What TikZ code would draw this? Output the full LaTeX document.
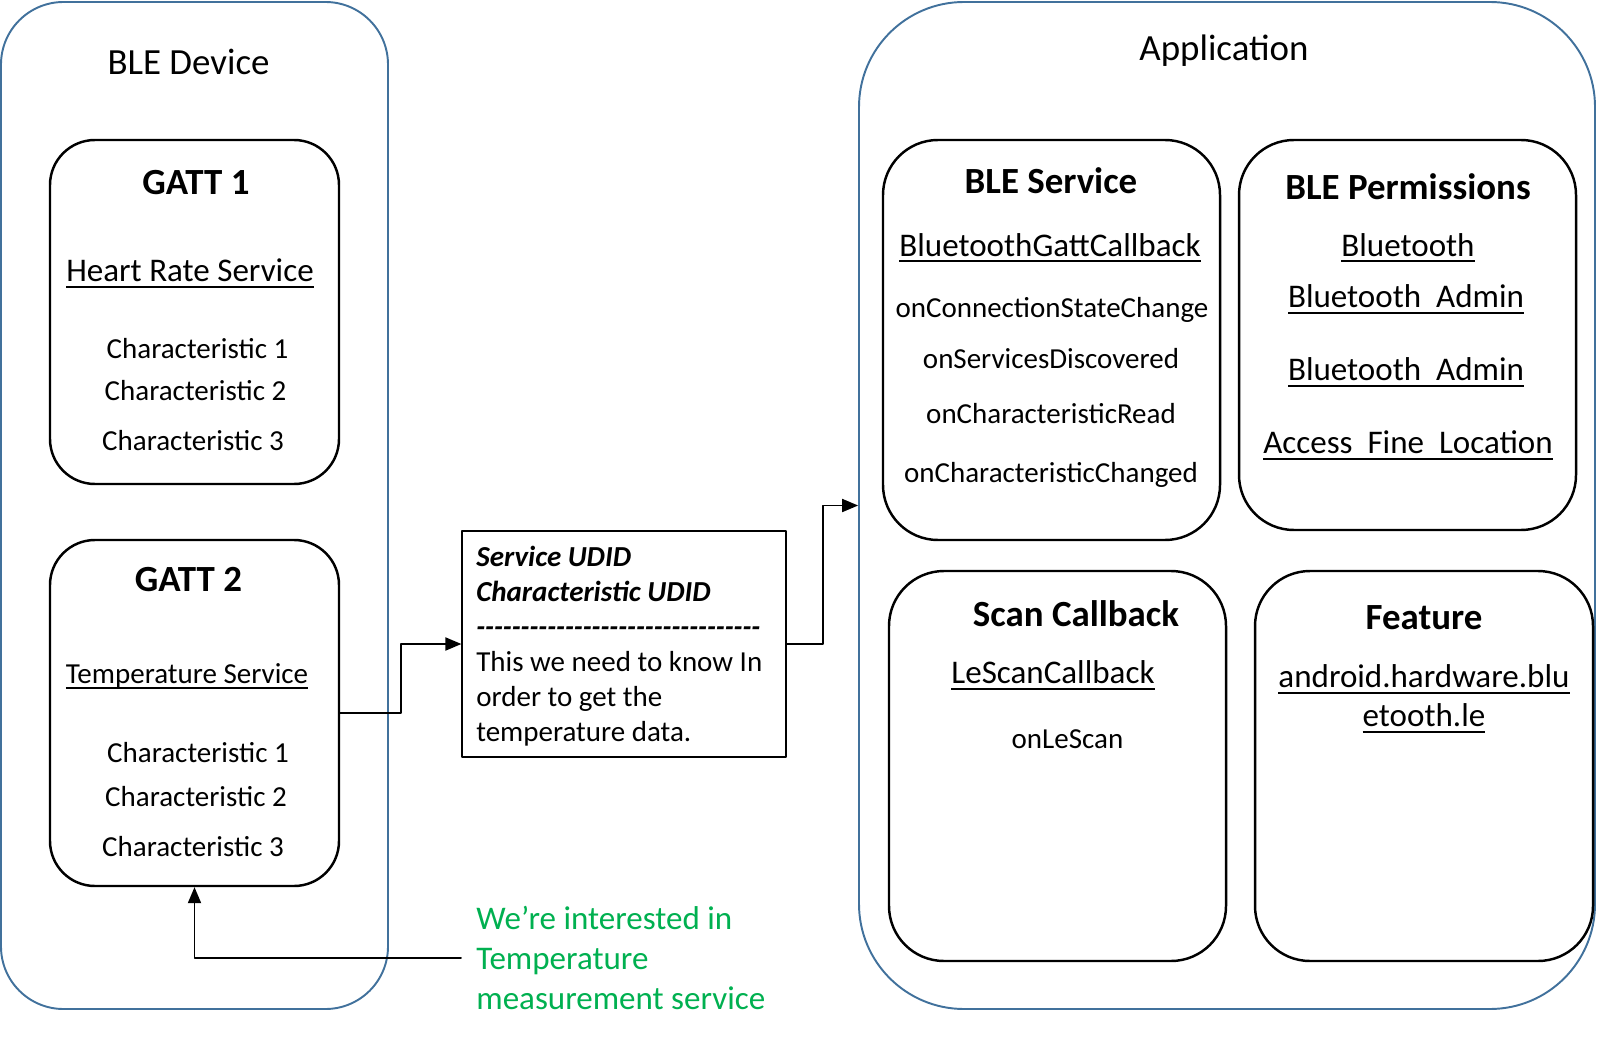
\documentclass[tikz,border=0pt]{standalone}
\usepackage{fontspec}
\setmainfont{Carlito}
\usepackage{tikz}
\usetikzlibrary{arrows}
\definecolor{urxrzc}{rgb}{0.2549,0.4431,0.6118}
\definecolor{qqbqvq}{rgb}{0.,0.6902,0.3137}
\newcommand{\ulx}[1]{\setbox0=\hbox{#1}\rlap{\rule[-3.4pt]{\wd0}{1.1pt}}\box0}
\newcommand{\dashrow}{\foreach \k in {1,...,32}{-\kern0pt}}
\tikzset{
  outerbox/.style={draw=urxrzc,line width=1.1pt,rectangle,inner sep=0pt},
  innerbox/.style={draw=black,line width=1.4pt,rectangle,inner sep=0pt,minimum width=6.74cm,minimum height=7.8cm,rounded corners=1.1cm},
  gattbox/.style={draw=black,line width=1.4pt,rectangle,inner sep=0pt,minimum width=5.78cm,rounded corners=0.9cm},
  txt/.style={inner sep=0pt,anchor=base,yshift=-1.1pt},
  bigtxt/.style={txt,font=\fontsize{21}{25}\selectfont},
  headtxt/.style={txt,font=\bfseries\fontsize{21}{25}\selectfont},
  linktxt/.style={txt,font=\fontsize{18.8}{22.8}\selectfont},
  smalltxt/.style={txt,font=\fontsize{16.5}{20}\selectfont}
}
\begin{document}
\begin{tikzpicture}[line cap=round,line join=round,>=triangle 45,x=1.0cm,y=1.0cm]
\useasboundingbox (0.,0.) rectangle (32.34,20.74);
% frames
\node [outerbox,rounded corners=1.25cm,minimum width=7.74cm,minimum height=20.14cm] (device) at (3.89,10.63) {};
\node [outerbox,rounded corners=2.1cm,minimum width=14.72cm,minimum height=20.14cm] (app) at (24.54,10.63) {};
\node [bigtxt] (devicetitle) at (3.77,19.28) {BLE Device};
\node [bigtxt] (apptitle) at (24.48,19.56) {Application};
% GATT 1
\node [gattbox,minimum height=6.88cm] (gatt1) at (3.89,14.5) {};
\node [headtxt] (gatt1title) at (3.92,16.88) {GATT 1};
\node [linktxt] (heartrate) at (3.80,15.14) {\ulx{Heart Rate Service}};
\node [smalltxt] (hrchar1) at (3.95,13.60) {Characteristic 1};
\node [smalltxt] (hrchar2) at (3.91,12.76) {Characteristic 2};
\node [smalltxt] (hrchar3) at (3.86,11.76) {Characteristic 3};
% GATT 2
\node [gattbox,minimum height=6.92cm] (gatt2) at (3.89,6.48) {};
\node [headtxt] (gatt2title) at (3.77,8.94) {GATT 2};
\node [smalltxt] (tempservice) at (3.74,7.11) {\ulx{Temperature Service}};
\node [smalltxt] (tpchar1) at (3.96,5.52) {Characteristic 1};
\node [smalltxt] (tpchar2) at (3.92,4.64) {Characteristic 2};
\node [smalltxt] (tpchar3) at (3.86,3.64) {Characteristic 3};
% UDID note
\node [draw=black,line width=0.75pt,rectangle,inner sep=0pt,minimum width=6.48cm,minimum height=4.52cm] (udid) at (12.48,7.86) {};
\node [smalltxt,anchor=base west,font=\bfseries\itshape\fontsize{16.5}{20}\selectfont] (udidserv) at (9.52,9.44) {Service UDID};
\node [smalltxt,anchor=base west,font=\bfseries\itshape\fontsize{16.5}{20}\selectfont] (udidchar) at (9.52,8.74) {Characteristic UDID};
\node [smalltxt,anchor=base west,font=\bfseries\itshape\fontsize{16.5}{20}\selectfont] (udiddash) at (9.52,8.04) {\dashrow};
\node [smalltxt,anchor=base west] (udidline1) at (9.52,7.35) {This we need to know In};
\node [smalltxt,anchor=base west] (udidline2) at (9.52,6.64) {order to get the};
\node [smalltxt,anchor=base west] (udidline3) at (9.52,5.94) {temperature data.};
% BLE Service
\node [innerbox,minimum height=8.0cm] (bleservice) at (21.03,13.94) {};
\node [headtxt] (bleservicetitle) at (21.02,16.9) {BLE Service};
\node [linktxt] (gattcallback) at (21.0,15.65) {\ulx{BluetoothGattCallback}};
\node [smalltxt] (onconn) at (21.04,14.43) {onConnectionStateChange};
\node [smalltxt] (ondisc) at (21.02,13.4) {onServicesDiscovered};
\node [smalltxt] (onread) at (21.02,12.3) {onCharacteristicRead};
\node [smalltxt] (onchanged) at (21.02,11.12) {onCharacteristicChanged};
% BLE Permissions
\node [innerbox] (perms) at (28.15,14.04) {};
\node [headtxt] (permstitle) at (28.16,16.78) {BLE Permissions};
\node [linktxt] (permbt) at (28.16,15.65) {\ulx{Bluetooth}};
\node [linktxt] (permadmin) at (28.12,14.62) {\ulx{Bluetooth\ \ Admin}};
\node [linktxt] (permadminb) at (28.12,13.16) {\ulx{Bluetooth\ \ Admin}};
\node [linktxt] (permloc) at (28.16,11.7) {\ulx{Access\ \ Fine\ \ Location}};
% Scan Callback
\node [innerbox] (scan) at (21.15,5.42) {};
\node [headtxt] (scantitle) at (21.52,8.24) {Scan Callback};
\node [linktxt] (lescancb) at (21.06,7.1) {\ulx{LeScanCallback}};
\node [smalltxt] (onlescan) at (21.35,5.8) {onLeScan};
% Feature
\node [innerbox,minimum width=6.76cm] (feature) at (28.48,5.42) {};
\node [headtxt] (featuretitle) at (28.48,8.18) {Feature};
\node [linktxt] (featurea) at (28.48,7.02) {\ulx{android.hardware.blu}};
\node [linktxt] (featureb) at (28.48,6.24) {\ulx{etooth.le}};
% green remark
\node [anchor=west,inner xsep=0.3cm,inner ysep=0pt,align=left,text=qqbqvq,font=\fontsize{18.8}{22.8}\selectfont] (remark) at (9.22,1.58) {We’re interested in\\Temperature\\measurement service};
% connectors
\draw [->,line width=1.1pt] (gatt2.east) -- ++(1.22,0) |- (udid.west);
\draw [->,line width=1.1pt] (udid.east) -- ++(0.72,0) |- (app.west);
\draw [->,line width=1.1pt] (remark.west) -| (gatt2.south);
\end{tikzpicture}
\end{document}
